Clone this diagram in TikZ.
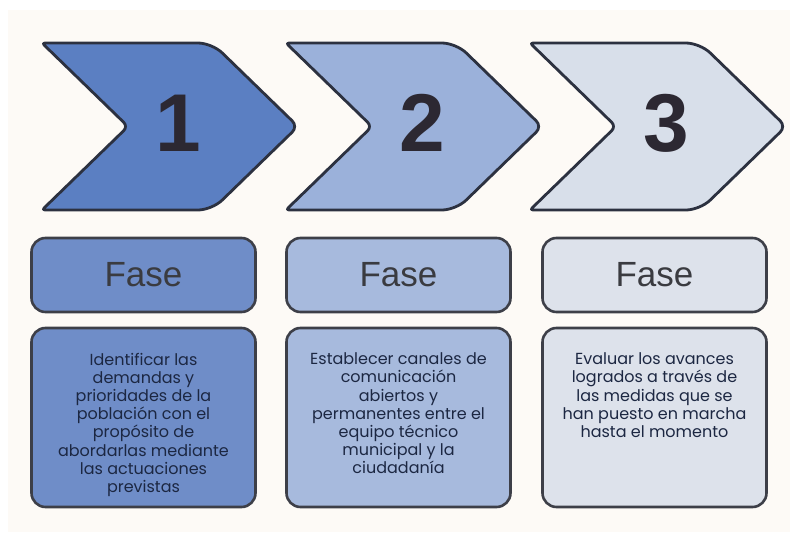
\documentclass[tikz,border=0pt]{standalone}
\usepackage{fontspec}
\setmainfont{Liberation Sans}
\newfontfamily\descfont{Poppins}
\usetikzlibrary{positioning}
\definecolor{pageBg}{HTML}{FDFAF6}
\definecolor{edgeDark}{HTML}{2C3140}
\definecolor{boxEdge}{HTML}{3D3F48}
\definecolor{chevA}{HTML}{5B7FC2}
\definecolor{chevB}{HTML}{9BB1DA}
\definecolor{chevC}{HTML}{D8DFEA}
\definecolor{boxA}{HTML}{6F8DC8}
\definecolor{boxB}{HTML}{A7BADD}
\definecolor{boxC}{HTML}{DDE2EB}
\definecolor{numInk}{HTML}{2C2832}
\definecolor{faseInk}{HTML}{3A3B40}
\definecolor{descInk}{HTML}{1C2742}

\begin{document}
\begin{tikzpicture}[
  x=1pt,y=-1pt,
  chev/.style={draw=edgeDark,line width=2.8pt,line join=round},
  digit/.style={text=numInk,font=\fontsize{82}{82}\selectfont\bfseries,inner sep=0pt},
  fasebox/.style={draw=boxEdge,line width=2.6pt,rounded corners=14pt,
                  minimum width=224pt,minimum height=74pt,text=faseInk,
                  font=\fontsize{35}{40}\selectfont},
  descbox/.style={draw=boxEdge,line width=2.6pt,rounded corners=14pt,
                  minimum width=224pt,minimum height=179pt},
  desc/.style={text=descInk,align=center,inner sep=0pt,
               font=\descfont\fontsize{16}{18.2}\selectfont}
]
\useasboundingbox (0,0) rectangle (790,535);
\fill[pageBg] (8,10) rectangle (790,532);

% Chevrons with their numbers
\foreach \i/\L/\col in {1/42/chevA,2/286/chevB,3/530/chevC} {
  \draw[chev,fill=\col] (\L,43) [rounded corners=14pt] -- (\L+170,43)
    [rounded corners=8pt] -- (\L+256,126.5) [rounded corners=14pt] -- (\L+170,210)
    [rounded corners=3pt] -- (\L,210) [rounded corners=6pt] -- (\L+86,126.5)
    [rounded corners=3pt] -- cycle;
  \node[digit] (n\i) at (\L+136,123) {\i};
}

% Phase boxes
\foreach \i/\cx/\col in {1/143.5/boxA,2/398.5/boxB,3/654.5/boxC} {
  \node[fasebox,fill=\col] (f\i) at (\cx,275) {Fase};
  \node[descbox,fill=\col] (d\i) at (\cx,417.5) {};
}

% Descriptions
\node[desc,below=26pt of d1.north] (t1) {Identificar las\\demandas y\\prioridades de la\\población con el\\propósito de\\abordarlas mediante\\las actuaciones\\previstas};
\node[desc,below=26pt of d2.north] (t2) {Establecer canales de\\comunicación\\abiertos y\\permanentes entre el\\equipo técnico\\municipal y la\\ciudadanía};
\node[desc,below=26pt of d3.north] (t3) {Evaluar los avances\\logrados a través de\\las medidas que se\\han puesto en marcha\\hasta el momento};
\end{tikzpicture}
\end{document}
